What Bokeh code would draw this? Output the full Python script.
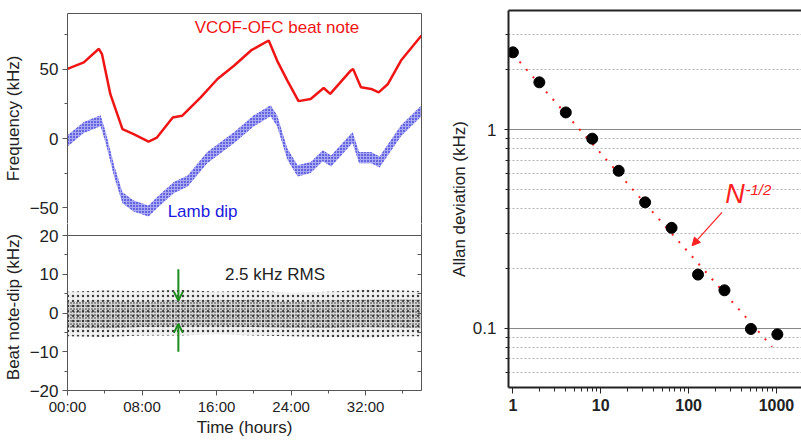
from bokeh.plotting import figure
from bokeh.layouts import row, column
from bokeh.models import (FixedTicker, LinearAxis, LogAxis, Label, Arrow, OpenHead,
                          NormalHead, Range1d, CustomJSTickFormatter, Span)
from bokeh.embed import file_html
from bokeh.resources import INLINE

FONT = "Liberation Sans"
TXT = "#222222"
FRAME = "#555555"

# ---------------- data ----------------
hours_red = [0, 1.75, 3.37, 3.7, 4.6, 5.9, 7.1, 8.7, 9.6, 11.3, 12.3, 14.3, 16.1, 17.9,
             19.7, 21.6, 22.5, 23.6, 24.8, 26.1, 27.5, 28.2, 30.4, 30.65, 31.5, 32.6,
             33.4, 34.4, 35.8, 38.0]
red_khz = [50.3, 55, 64.8, 61, 32, 6.8, 3.2, -2.2, 0.7, 15.2, 16.4, 29.7, 43, 52.7,
           63.6, 70.8, 56.3, 41.8, 27.0, 28.5, 36.5, 32.2, 49, 50.3, 37, 35.8,
           33.3, 39.4, 56.3, 74.4]

hours_blue = [0, 1.75, 3.55, 4.1, 5.0, 5.9, 7.1, 8.7, 9.6, 11.4, 12.9, 15.0, 17.9, 20.0,
              21.8, 22.5, 23.6, 24.7, 26.1, 27.4, 28.3, 30.6, 31.3, 32.6, 33.5, 35.8, 38.0]
blue_khz = [-1.7, 8, 12.8, 0.7, -23.4, -42.8, -48.8, -52.4, -46.4, -35.5, -30.7, -13.8,
            0.7, 12.8, 20, 12.8, -11.3, -23.4, -21, -12.5, -16.2, 0.7, -13.8, -13.8,
            -17, 5.6, 20]
blue_spread_khz = 4.0

resid_hours = [0, 4, 8, 12, 16, 20, 24, 28, 32, 36, 38]
resid_core_hi = [3.0, 3.2, 3.0, 3.3, 3.2, 3.4, 3.0, 3.2, 3.4, 3.5, 3.4]
resid_core_lo = [-3.8, -4.0, -3.6, -3.5, -3.5, -3.6, -3.8, -3.9, -3.7, -3.8, -4.0]
resid_outer_hi = [5.5, 5.8, 5.6, 6.0, 5.5, 5.8, 5.2, 5.5, 6.0, 5.8, 5.6]
resid_outer_lo = [-6.0, -6.2, -5.8, -5.8, -5.5, -5.8, -6.0, -6.2, -6.4, -6.0, -6.0]

time_ticks = [0, 8, 16, 24, 32]
time_minor = [4, 12, 20, 28, 36]

avg_size = [1, 2, 4, 8, 16, 32, 64, 128, 256, 512, 1024]
allan_khz = [2.45, 1.73, 1.22, 0.90, 0.62, 0.43, 0.32, 0.186, 0.155, 0.099, 0.093]
fit_size = [1, 890]
fit_khz = [2.4, 0.0805]

n_ticks = [1, 10, 100, 1000]
n_minor = [2, 3, 4, 5, 6, 7, 8, 9, 20, 30, 40, 50, 60, 70, 80, 90,
           200, 300, 400, 500, 600, 700, 800, 900]
adev_ticks = [0.1, 1]
adev_minor = [0.06, 0.07, 0.08, 0.09, 0.2, 0.3, 0.4, 0.5, 0.6, 0.7, 0.8, 0.9, 2, 3]

blue_lo = [b - blue_spread_khz for b in blue_khz]
blue_hi = [b + blue_spread_khz for b in blue_khz]


def style_axis(ax, label_size="17px", color=FRAME):
    ax.axis_line_color = color
    ax.major_tick_line_color = color
    ax.minor_tick_line_color = color
    ax.major_label_text_font = FONT
    ax.major_label_text_color = TXT
    ax.axis_label_text_font = FONT
    ax.axis_label_text_color = TXT
    ax.axis_label_text_font_style = "normal"
    ax.axis_label_text_font_size = "17px"
    ax.major_label_text_font_size = label_size
    ax.major_tick_in = 0
    ax.major_tick_out = 5
    ax.minor_tick_in = 0
    ax.minor_tick_out = 3


def spine(minor=None, tick_in=0):
    return LinearAxis(ticker=FixedTicker(ticks=[], minor_ticks=minor or []),
                      major_tick_in=0, major_tick_out=0, minor_tick_in=tick_in,
                      minor_tick_out=0, axis_line_color=FRAME,
                      minor_tick_line_color=FRAME)


x_rng = Range1d(0, 38)

# ---------------- top-left: frequencies ----------------
p1 = figure(width=425, height=223, x_range=x_rng, y_range=Range1d(-61.4, 90.3),
            x_axis_location=None, output_backend="svg", toolbar_location=None,
            min_border_left=67, min_border_right=4, min_border_top=13, min_border_bottom=0)
p1.grid.visible = False
p1.outline_line_color = None
ya = p1.yaxis[0]
ya.ticker = FixedTicker(ticks=[-50, 0, 50], minor_ticks=[-75, -25, 25, 75])
style_axis(ya)
ya.axis_label = "Frequency (kHz)"
ya.axis_label_standoff = 4
ya.major_label_standoff = 4
p1.add_layout(spine(), "above")
p1.add_layout(spine(), "right")

p1.varea(x=hours_blue, y1=blue_lo, y2=blue_hi, fill_color="#2f2fe6", fill_alpha=0.42,
         hatch_pattern="dot", hatch_color="#0000c0", hatch_scale=3, hatch_weight=1.4)
p1.line(hours_red, red_khz, line_color="#f01515", line_width=2.5)

p1.add_layout(Label(x=13.66, y=73, text="VCOF-OFC beat note", text_color="#f01515",
                    text_font=FONT, text_font_size="17px"))
p1.add_layout(Label(x=10.75, y=-59.6, text="Lamb dip", text_color="#1a1ae0",
                    text_font=FONT, text_font_size="17px"))

# ---------------- bottom-left: residuals ----------------
p2 = figure(width=425, height=218, x_range=x_rng, y_range=Range1d(-20, 23.1),
            output_backend="svg", toolbar_location=None,
            min_border_left=67, min_border_right=4, min_border_top=0, min_border_bottom=51)
p2.grid.visible = False
p2.outline_line_color = None
ya2 = p2.yaxis[0]
ya2.ticker = FixedTicker(ticks=[-20, -10, 0, 10, 20], minor_ticks=[-15, -5, 5, 15])
style_axis(ya2)
ya2.axis_label = "Beat note-dip (kHz)"
ya2.axis_label_standoff = 4
ya2.major_label_standoff = 4
xa2 = p2.xaxis[0]
xa2.ticker = FixedTicker(ticks=time_ticks, minor_ticks=time_minor)
xa2.formatter = CustomJSTickFormatter(
    code="const h = Math.round(tick); return (h < 10 ? '0' : '') + h + ':00';")
style_axis(xa2, label_size="15px")
xa2.axis_label = "Time (hours)"
xa2.axis_label_standoff = 0
xa2.major_label_standoff = 2
p2.add_layout(spine([-15, -10, -5, 0, 5, 10, 15], tick_in=4), "right")
p2.add_layout(Span(location=20, dimension="width", line_color=FRAME, line_width=1))

p2.varea(x=resid_hours, y1=resid_outer_lo, y2=resid_outer_hi, fill_color="#a0a0a0",
         fill_alpha=0.15, hatch_pattern="dot", hatch_color="#111111", hatch_scale=5,
         hatch_weight=1.0, hatch_alpha=0.8)
p2.varea(x=resid_hours, y1=resid_core_lo, y2=resid_core_hi, fill_color="#808080",
         fill_alpha=0.22, hatch_pattern="dot", hatch_color="#000000", hatch_scale=3,
         hatch_weight=1.1, hatch_alpha=0.85)

GREEN = "#1e8c1e"
p2.add_layout(Arrow(end=OpenHead(size=9, line_color=GREEN, line_width=2),
                    x_start=11.9, y_start=11.3, x_end=11.9, y_end=3.2,
                    line_color=GREEN, line_width=2))
p2.add_layout(Arrow(end=OpenHead(size=9, line_color=GREEN, line_width=2),
                    x_start=11.9, y_start=-10.0, x_end=11.9, y_end=-2.8,
                    line_color=GREEN, line_width=2))
p2.add_layout(Label(x=16.9, y=7.5, text="2.5 kHz RMS", text_color=TXT,
                    text_font=FONT, text_font_size="17px"))

# ---------------- right: Allan deviation ----------------
p3 = figure(width=376, height=441, x_axis_type="log", y_axis_type="log",
            x_range=Range1d(0.891, 1928), y_range=Range1d(0.0502, 3.98),
            output_backend="svg", toolbar_location=None,
            min_border_left=83, min_border_right=0, min_border_top=10, min_border_bottom=54)
p3.outline_line_color = None
p3.xgrid.visible = False

ya3 = p3.yaxis[0]
ya3.ticker = FixedTicker(ticks=adev_ticks, minor_ticks=adev_minor)
ya3.formatter = CustomJSTickFormatter(code="return tick.toString();")
style_axis(ya3, color="#222222")
ya3.axis_line_width = 2
ya3.major_tick_out = 4
ya3.minor_tick_out = 3
ya3.major_label_standoff = 8
ya3.axis_label = "Allan deviation (kHz)"
ya3.axis_label_standoff = 1

xa3 = p3.xaxis[0]
xa3.ticker = FixedTicker(ticks=n_ticks, minor_ticks=n_minor)
xa3.formatter = CustomJSTickFormatter(code="return tick.toString();")
style_axis(xa3, label_size="16px", color="#222222")
xa3.axis_line_width = 2
xa3.major_tick_out = 6
xa3.minor_tick_out = 4
xa3.major_label_standoff = 5
xa3.major_label_text_font_style = "bold"

yg = p3.ygrid[0]
yg.ticker = ya3.ticker
yg.grid_line_color = "#888888"
yg.grid_line_width = 1
yg.minor_grid_line_color = "#b5b5b5"
yg.minor_grid_line_dash = "2 2"

p3.add_layout(LogAxis(ticker=FixedTicker(ticks=[]), axis_line_width=2,
                      axis_line_color="#222222", major_tick_out=0, minor_tick_out=0),
              "above")

p3.line(fit_size, fit_khz, line_color="#ff2020", line_width=2, line_dash="2 8")
p3.scatter(avg_size, allan_khz, size=11, color="black")

p3.add_layout(Arrow(end=NormalHead(size=8, fill_color="#ff2020", line_color="#ff2020"),
                    x_start=240, y_start=0.383, x_end=109.5, y_end=0.26,
                    line_color="#ff2020", line_width=1.2))
p3.add_layout(Label(x=262, y=0.40, text="N", text_color="#ff2020", text_font=FONT,
                    text_font_style="italic", text_font_size="27px"))
p3.add_layout(Label(x=444, y=0.454, text="-1/2", text_color="#ff2020", text_font=FONT,
                    text_font_style="italic", text_font_size="15px"))

# x-axis title with italic N
p3.add_layout(Label(x=119.4, y=0.0286, text="Averaging size (", text_align="right",
                    x_offset=-6, text_color=TXT, text_font=FONT, text_font_size="17px"))
p3.add_layout(Label(x=119.4, y=0.0286, text="N", text_align="center",
                    text_color=TXT, text_font=FONT, text_font_size="17px",
                    text_font_style="italic"))
p3.add_layout(Label(x=119.4, y=0.0286, text=")", text_align="left", x_offset=6.5,
                    text_color=TXT, text_font=FONT, text_font_size="17px"))

layout = row(column(p1, p2, spacing=0), p3, spacing=0)
open("out.html", "w").write(file_html(layout, INLINE))
